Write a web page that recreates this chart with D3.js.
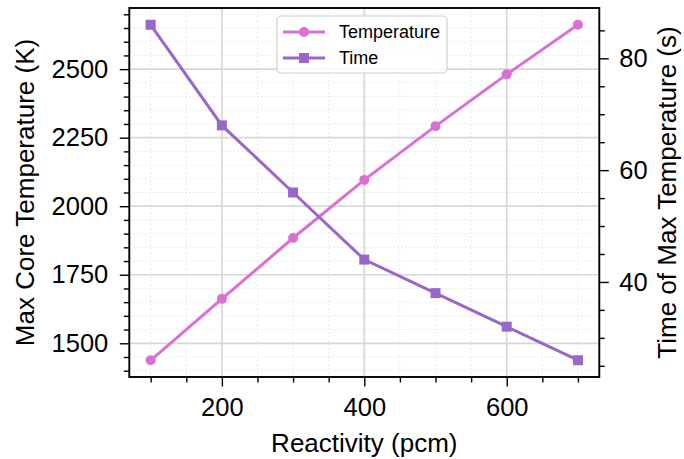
<!DOCTYPE html>
<html><head><meta charset="utf-8">
<script src="https://cdn.jsdelivr.net/npm/d3@7"></script>
<style>body{margin:0;background:#fff}svg{display:block;font-family:"Liberation Sans",Arial,Helvetica,sans-serif}</style>
</head><body>
<svg id="c" width="684" height="459"></svg>
<script>
const reactivity = [100, 200, 300, 400, 500, 600, 700];
const maxTemp = [1438, 1662, 1884, 2096, 2292, 2481, 2662];
const timeMax = [86, 68, 56, 44, 38, 32, 26];
const xTicks = [200, 400, 600];
const yLeftTicks = [1500, 1750, 2000, 2250, 2500];
const yRightTicks = [40, 60, 80];
const seriesNames = ["Temperature", "Time"];
const colors = ["#da70d6", "#9966cc"];

const svg = d3.select("#c");
const L = 129.3, R = 599.3, T = 8, B = 377;
const x = d3.scaleLinear().domain([70, 730]).range([L, R]);
const yL = d3.scaleLinear().domain([1377, 2723]).range([B, T]);
const yR = d3.scaleLinear().domain([23, 89]).range([B, T]);

const xMinor = d3.range(100, 731, 50).filter(v => !xTicks.includes(v));
const yLMinor = d3.range(1400, 2723, 50).filter(v => !yLeftTicks.includes(v));
const yRMinor = d3.range(25, 89, 5).filter(v => !yRightTicks.includes(v));

const g = svg.append("g");
// minor grid
g.selectAll(".vmin").data(xMinor).enter().append("line")
  .attr("x1", d => x(d)).attr("x2", d => x(d)).attr("y1", T).attr("y2", B)
  .attr("stroke", "#e2e2e2").attr("stroke-width", 0.9).attr("stroke-dasharray", "1.5,2.5");
g.selectAll(".hmin").data(yLMinor).enter().append("line")
  .attr("x1", L).attr("x2", R).attr("y1", d => yL(d)).attr("y2", d => yL(d))
  .attr("stroke", "#e2e2e2").attr("stroke-width", 0.9).attr("stroke-dasharray", "1.5,2.5");
// major grid
g.selectAll(".vmaj").data(xTicks).enter().append("line")
  .attr("x1", d => x(d)).attr("x2", d => x(d)).attr("y1", T).attr("y2", B)
  .attr("stroke", "#d8d8d8").attr("stroke-width", 1.7);
g.selectAll(".hmaj").data(yLeftTicks).enter().append("line")
  .attr("x1", L).attr("x2", R).attr("y1", d => yL(d)).attr("y2", d => yL(d))
  .attr("stroke", "#d8d8d8").attr("stroke-width", 1.7);

// lines
const data = reactivity.map((r, i) => ({r, t: maxTemp[i], m: timeMax[i]}));
const lineT = d3.line().x(d => x(d.r)).y(d => yL(d.t));
const lineM = d3.line().x(d => x(d.r)).y(d => yR(d.m));
svg.append("path").datum(data).attr("d", lineT).attr("fill", "none")
  .attr("stroke", colors[0]).attr("stroke-width", 3);
svg.selectAll(".ct").data(data).enter().append("circle")
  .attr("cx", d => x(d.r)).attr("cy", d => yL(d.t)).attr("r", 5).attr("fill", colors[0]);
svg.append("path").datum(data).attr("d", lineM).attr("fill", "none")
  .attr("stroke", colors[1]).attr("stroke-width", 3);
svg.selectAll(".sq").data(data).enter().append("rect")
  .attr("x", d => x(d.r) - 5).attr("y", d => yR(d.m) - 5).attr("width", 10).attr("height", 10)
  .attr("fill", colors[1]);

// axes
const fs = "25.5px";
const TS = 9.5, TSm = 5.5, PAD = 11.5;
const ax = svg.append("g").attr("transform", `translate(0,${B})`)
  .call(d3.axisBottom(x).tickValues(xTicks).tickSize(TS).tickPadding(PAD).tickFormat(d3.format("d")));
const axm = svg.append("g").attr("transform", `translate(0,${B})`)
  .call(d3.axisBottom(x).tickValues(xMinor).tickSize(TSm).tickFormat(""));
const ayl = svg.append("g").attr("transform", `translate(${L},0)`)
  .call(d3.axisLeft(yL).tickValues(yLeftTicks).tickSize(TS).tickPadding(PAD).tickFormat(d3.format("d")));
const aylm = svg.append("g").attr("transform", `translate(${L},0)`)
  .call(d3.axisLeft(yL).tickValues(yLMinor).tickSize(TSm).tickFormat(""));
const ayr = svg.append("g").attr("transform", `translate(${R},0)`)
  .call(d3.axisRight(yR).tickValues(yRightTicks).tickSize(TS).tickPadding(PAD - 1).tickFormat(d3.format("d")));
const ayrm = svg.append("g").attr("transform", `translate(${R},0)`)
  .call(d3.axisRight(yR).tickValues(yRMinor).tickSize(TSm).tickFormat(""));
[ax, axm, ayl, aylm, ayr, ayrm].forEach(a => {
  a.select(".domain").remove();
  a.selectAll("line").attr("stroke", "#000").attr("stroke-width", 1.4);
  a.selectAll("text").attr("font-size", fs).attr("fill", "#000").attr("font-family", null);
});
// frame
svg.append("rect").attr("x", L).attr("y", T).attr("width", R - L).attr("height", B - T)
  .attr("fill", "none").attr("stroke", "#000").attr("stroke-width", 1.9);

// axis labels
svg.append("text").attr("x", (L + R) / 2).attr("y", 452).attr("text-anchor", "middle")
  .attr("font-size", "26px").text("Reactivity (pcm)");
svg.append("text").attr("transform", `translate(33.5,${(T + B) / 2}) rotate(-90)`).attr("text-anchor", "middle")
  .attr("font-size", "26px").text("Max Core Temperature (K)");
svg.append("text").attr("transform", `translate(675.5,${(T + B) / 2}) rotate(-90)`).attr("text-anchor", "middle")
  .attr("font-size", "26px").text("Time of Max Temperature (s)");

// legend
const lg = svg.append("g");
lg.append("rect").attr("x", 277).attr("y", 16).attr("width", 170).attr("height", 57).attr("rx", 4)
  .attr("fill", "#fff").attr("fill-opacity", 0.85).attr("stroke", "#d0d0d0").attr("stroke-width", 1.2);
seriesNames.forEach((n, i) => {
  const yy = 32 + i * 26;
  lg.append("line").attr("x1", 283).attr("x2", 325).attr("y1", yy).attr("y2", yy)
    .attr("stroke", colors[i]).attr("stroke-width", 3);
  if (i === 0) lg.append("circle").attr("cx", 304).attr("cy", yy).attr("r", 5).attr("fill", colors[i]);
  else lg.append("rect").attr("x", 299).attr("y", yy - 5).attr("width", 10).attr("height", 10).attr("fill", colors[i]);
  lg.append("text").attr("x", 339).attr("y", yy + 6.3).attr("font-size", "18px").text(n);
});
</script>
</body></html>
